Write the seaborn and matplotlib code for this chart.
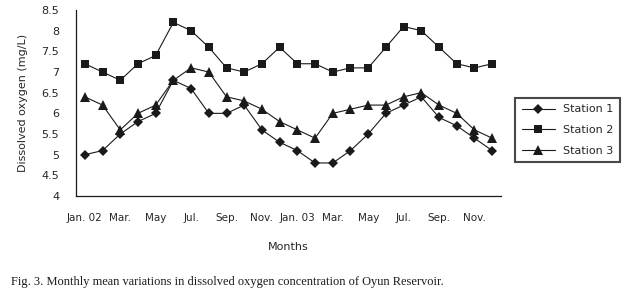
import numpy as np
import pandas as pd
import seaborn as sns
import matplotlib.pyplot as plt

# monthly means, Jan 2002 .. Dec 2003
months = list(range(24))
station_1 = [5.0, 5.1, 5.5, 5.8, 6.0, 6.8, 6.6, 6.0, 6.0, 6.2, 5.6, 5.3,
             5.1, 4.8, 4.8, 5.1, 5.5, 6.0, 6.2, 6.4, 5.9, 5.7, 5.4, 5.1]
station_2 = [7.2, 7.0, 6.8, 7.2, 7.4, 8.2, 8.0, 7.6, 7.1, 7.0, 7.2, 7.6,
             7.2, 7.2, 7.0, 7.1, 7.1, 7.6, 8.1, 8.0, 7.6, 7.2, 7.1, 7.2]
station_3 = [6.4, 6.2, 5.6, 6.0, 6.2, 6.8, 7.1, 7.0, 6.4, 6.3, 6.1, 5.8,
             5.6, 5.4, 6.0, 6.1, 6.2, 6.2, 6.4, 6.5, 6.2, 6.0, 5.6, 5.4]
tick_labels = ["Jan. 02", "Mar.", "May", "Jul.", "Sep.", "Nov.",
               "Jan. 03", "Mar.", "May", "Jul.", "Sep.", "Nov."]

df = pd.DataFrame({
    "month": months * 3,
    "DO": station_1 + station_2 + station_3,
    "station": ["Station 1"] * 24 + ["Station 2"] * 24 + ["Station 3"] * 24,
})

sns.set_style("white")
plt.rcParams["font.family"] = ["DejaVu Sans"]

fig = plt.figure(figsize=(6.31, 3.03), dpi=100)
ax = fig.add_axes([0.1204, 0.353, 0.794 - 0.1204, 0.967 - 0.353])

sns.lineplot(data=df, x="month", y="DO", style="station", color="#1a1a1a",
             markers={"Station 1": "D", "Station 2": "s", "Station 3": "^"},
             dashes=False, linewidth=0.8, markersize=6, markeredgewidth=0,
             ax=ax, legend=True)

# diamonds a bit smaller, triangles a bit bigger
msize = {"D": 4.8, "s": 6, "^": 7}
for ln in ax.lines:
    m = ln.get_marker()
    if m in msize:
        ln.set_markersize(msize[m])

ax.set_xlim(-0.5, 23.5)
ax.set_ylim(4, 8.5)
ax.set_yticks(np.arange(4, 8.51, 0.5))
ax.set_yticklabels(["4", "4.5", "5", "5.5", "6", "6.5", "7", "7.5", "8", "8.5"])

# ticks on category boundaries, labels on every other month
ax.set_xticks(np.arange(-0.5, 24, 1), minor=True)
ax.set_xticks(np.arange(0, 24, 2))
ax.set_xticklabels(tick_labels)
ax.tick_params(axis="x", which="major", length=0, pad=12, labelsize=7.5)
ax.tick_params(axis="x", which="minor", length=4, width=0.8, color="#1a1a1a", direction="out")
ax.tick_params(axis="y", length=4, width=0.8, color="#1a1a1a", direction="out", labelsize=8, pad=8)

for s in ["top", "right"]:
    ax.spines[s].set_visible(False)
for s in ["left", "bottom"]:
    ax.spines[s].set_color("#1a1a1a")
    ax.spines[s].set_linewidth(0.9)

ax.set_xlabel("Months", fontsize=8, labelpad=14)
ax.set_ylabel("Dissolved oxygen (mg/L)", fontsize=8, labelpad=10)

handles, labels = ax.get_legend_handles_labels()
leg = ax.legend(handles, labels, loc="center left", bbox_to_anchor=(1.02, 0.355),
                fancybox=False, frameon=True, fontsize=8, handlelength=3.0,
                labelspacing=0.95, borderpad=0.6, handletextpad=0.7)
leg.get_frame().set_edgecolor("#1a1a1a")
leg.get_frame().set_linewidth(1.5)

fig.text(0.018, 0.058, "Fig. 3. Monthly mean variations in dissolved oxygen concentration of Oyun Reservoir.",
         family="Liberation Serif", fontsize=8.9, color="#1a1a1a")

fig.savefig("out.png", dpi=100)
